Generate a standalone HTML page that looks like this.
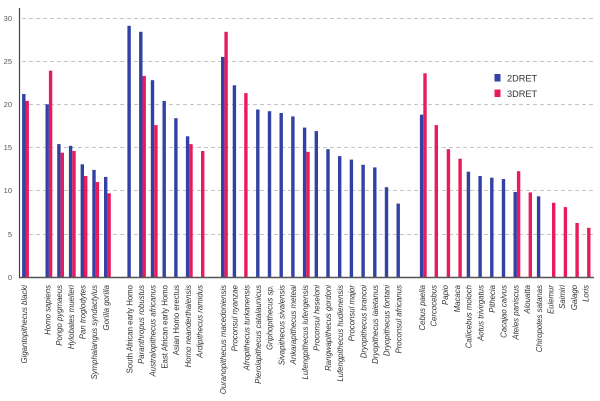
<!DOCTYPE html>
<html><head><meta charset="utf-8"><style>
html,body{margin:0;padding:0;background:#fff;}
svg{display:block;}
.g{stroke:#c4c4c4;stroke-width:1;stroke-dasharray:4 3;}
.yt{font-family:"Liberation Sans",sans-serif;font-size:7.5px;fill:#555;text-anchor:end;}
.xl{font-family:"Liberation Sans",sans-serif;font-size:7.8px;fill:#333;text-anchor:end;font-style:italic;}
.xu{font-style:normal;}
.lg{font-family:"Liberation Sans",sans-serif;font-size:9.2px;fill:#333;}
.b{fill:#3241a3;}
.r{fill:#e81c5b;}
</style></head><body>
<svg width="600" height="401" viewBox="0 0 600 401" xmlns="http://www.w3.org/2000/svg">
<rect width="600" height="401" fill="#fff"/>
<!-- gridlines -->
<line class="g" x1="22" y1="18.5" x2="596" y2="18.5"/>
<line class="g" x1="22" y1="61.5" x2="596" y2="61.5"/>
<line class="g" x1="22" y1="104.5" x2="596" y2="104.5"/>
<line class="g" x1="22" y1="147.5" x2="596" y2="147.5"/>
<line class="g" x1="22" y1="190.5" x2="596" y2="190.5"/>
<line class="g" x1="22" y1="234.5" x2="596" y2="234.5"/>
<!-- y ticks -->
<text class="yt" x="12" y="21">30</text>
<text class="yt" x="12" y="64">25</text>
<text class="yt" x="12" y="107">20</text>
<text class="yt" x="12" y="150">15</text>
<text class="yt" x="12" y="193">10</text>
<text class="yt" x="12" y="237">5</text>
<text class="yt" x="12" y="280">0</text>
<!-- bars -->
<g>
<rect class="b" x="22.1" y="94.0" width="3.4" height="183.0"/><rect class="r" x="25.5" y="100.9" width="3.4" height="176.1"/>
<rect class="b" x="45.5" y="104.3" width="3.4" height="172.7"/><rect class="r" x="48.9" y="70.7" width="3.4" height="206.3"/>
<rect class="b" x="57.2" y="144.1" width="3.4" height="132.9"/><rect class="r" x="60.6" y="152.7" width="3.4" height="124.3"/>
<rect class="b" x="68.9" y="145.8" width="3.4" height="131.2"/><rect class="r" x="72.3" y="151.0" width="3.4" height="126.0"/>
<rect class="b" x="80.6" y="164.3" width="3.4" height="112.7"/><rect class="r" x="84.0" y="176.0" width="3.4" height="101.0"/>
<rect class="b" x="92.3" y="169.9" width="3.4" height="107.1"/><rect class="r" x="95.7" y="182.0" width="3.4" height="95.0"/>
<rect class="b" x="104.0" y="176.9" width="3.4" height="100.1"/><rect class="r" x="107.4" y="193.3" width="3.4" height="83.7"/>
<rect class="b" x="127.4" y="25.8" width="3.4" height="251.2"/>
<rect class="b" x="139.1" y="31.8" width="3.4" height="245.2"/><rect class="r" x="142.5" y="75.9" width="3.4" height="201.1"/>
<rect class="b" x="150.8" y="80.2" width="3.4" height="196.8"/><rect class="r" x="154.2" y="125.1" width="3.4" height="151.9"/>
<rect class="b" x="162.5" y="100.9" width="3.4" height="176.1"/>
<rect class="b" x="174.2" y="118.2" width="3.4" height="158.8"/>
<rect class="b" x="185.9" y="136.3" width="3.4" height="140.7"/><rect class="r" x="189.3" y="144.1" width="3.4" height="132.9"/>
<rect class="r" x="201.0" y="151.0" width="3.4" height="126.0"/>
<rect class="b" x="221.0" y="56.9" width="3.4" height="220.1"/><rect class="r" x="224.4" y="31.8" width="3.4" height="245.2"/>
<rect class="b" x="232.7" y="85.3" width="3.4" height="191.7"/>
<rect class="r" x="244.2" y="93.1" width="3.4" height="183.9"/>
<rect class="b" x="256.1" y="109.5" width="3.4" height="167.5"/>
<rect class="b" x="267.8" y="111.2" width="3.4" height="165.8"/>
<rect class="b" x="279.5" y="113.0" width="3.4" height="164.0"/>
<rect class="b" x="291.2" y="116.4" width="3.4" height="160.6"/>
<rect class="b" x="302.9" y="127.6" width="3.4" height="149.4"/><rect class="r" x="306.3" y="151.8" width="3.4" height="125.2"/>
<rect class="b" x="314.6" y="131.1" width="3.4" height="145.9"/>
<rect class="b" x="326.3" y="149.2" width="3.4" height="127.8"/>
<rect class="b" x="338.0" y="156.1" width="3.4" height="120.9"/>
<rect class="b" x="349.7" y="159.6" width="3.4" height="117.4"/>
<rect class="b" x="361.4" y="164.8" width="3.4" height="112.2"/>
<rect class="b" x="373.1" y="167.4" width="3.4" height="109.6"/>
<rect class="b" x="384.8" y="187.2" width="3.4" height="89.8"/>
<rect class="b" x="396.5" y="203.6" width="3.4" height="73.4"/>
<rect class="b" x="419.9" y="114.7" width="3.4" height="162.3"/><rect class="r" x="423.3" y="73.3" width="3.4" height="203.7"/>
<rect class="r" x="434.6" y="125.1" width="3.4" height="151.9"/>
<rect class="r" x="446.7" y="149.2" width="3.4" height="127.8"/>
<rect class="r" x="458.4" y="158.7" width="3.4" height="118.3"/>
<rect class="b" x="466.7" y="171.7" width="3.4" height="105.3"/>
<rect class="b" x="478.4" y="176.0" width="3.4" height="101.0"/>
<rect class="b" x="490.1" y="177.7" width="3.4" height="99.3"/>
<rect class="b" x="501.8" y="179.0" width="3.4" height="98.0"/>
<rect class="b" x="513.5" y="192.0" width="3.4" height="85.0"/><rect class="r" x="516.9" y="171.2" width="3.4" height="105.8"/>
<rect class="r" x="528.6" y="192.4" width="3.4" height="84.6"/>
<rect class="b" x="536.9" y="196.3" width="3.4" height="80.7"/>
<rect class="r" x="552.0" y="202.8" width="3.4" height="74.2"/>
<rect class="r" x="563.7" y="207.1" width="3.4" height="69.9"/>
<rect class="r" x="575.4" y="223.0" width="3.4" height="54.0"/>
<rect class="r" x="587.1" y="227.8" width="3.4" height="49.2"/>
</g>
<!-- axes -->
<line x1="19.5" y1="8" x2="19.5" y2="278" stroke="#444" stroke-width="1.2"/>
<line x1="19" y1="277.5" x2="594" y2="277.5" stroke="#555" stroke-width="1.5"/>
<!-- legend -->
<rect class="b" x="494.5" y="74" width="6" height="7.5"/>
<text class="lg" x="507" y="81.5">2DRET</text>
<rect class="r" x="494.5" y="89.5" width="6" height="7.5"/>
<text class="lg" x="507" y="97">3DRET</text>
<!-- x labels -->
<g>
<text class="xl" transform="translate(27.0,285) rotate(-90)">Gigantopithecus blacki</text>
<text class="xl" transform="translate(50.4,285) rotate(-90)">Homo sapiens</text>
<text class="xl" transform="translate(62.1,285) rotate(-90)">Pongo pygmaeus</text>
<text class="xl" transform="translate(73.8,285) rotate(-90)">Hylobates muelleri</text>
<text class="xl" transform="translate(85.5,285) rotate(-90)">Pan troglodytes</text>
<text class="xl" transform="translate(97.2,285) rotate(-90)">Symphalangus syndactylus</text>
<text class="xl" transform="translate(108.9,285) rotate(-90)">Gorilla gorilla</text>
<text class="xl xu" transform="translate(132.3,285) rotate(-90)">South African early Homo</text>
<text class="xl" transform="translate(144.0,285) rotate(-90)">Paranthropus robustus</text>
<text class="xl" transform="translate(155.7,285) rotate(-90)">Australopithecus africanus</text>
<text class="xl xu" transform="translate(167.4,285) rotate(-90)">East African early Homo</text>
<text class="xl xu" transform="translate(179.1,285) rotate(-90)">Asian Homo erectus</text>
<text class="xl" transform="translate(190.8,285) rotate(-90)">Homo neanderthalensis</text>
<text class="xl" transform="translate(202.5,285) rotate(-90)">Ardipithecus ramidus</text>
<text class="xl" transform="translate(225.9,285) rotate(-90)">Ouranopithecus macedoniensis</text>
<text class="xl" transform="translate(237.6,285) rotate(-90)">Proconsul nyanzae</text>
<text class="xl" transform="translate(249.3,285) rotate(-90)">Afropithecus turkanensis</text>
<text class="xl" transform="translate(261.0,285) rotate(-90)">Pierolapithecus catalaunicus</text>
<text class="xl" transform="translate(272.7,285) rotate(-90)">Griphopithecus sp.</text>
<text class="xl" transform="translate(284.4,285) rotate(-90)">Sivapithecus sivalensis</text>
<text class="xl" transform="translate(296.1,285) rotate(-90)">Ankarapithecus meteai</text>
<text class="xl" transform="translate(307.8,285) rotate(-90)">Lufengpithecus lufengensis</text>
<text class="xl" transform="translate(319.5,285) rotate(-90)">Proconsul heseloni</text>
<text class="xl" transform="translate(331.2,285) rotate(-90)">Rangwapithecus gordoni</text>
<text class="xl" transform="translate(342.9,285) rotate(-90)">Lufengpithecus hudienensis</text>
<text class="xl" transform="translate(354.6,285) rotate(-90)">Proconsul major</text>
<text class="xl" transform="translate(366.3,285) rotate(-90)">Dryopithecus brancoi</text>
<text class="xl" transform="translate(378.0,285) rotate(-90)">Dryopithecus laietanus</text>
<text class="xl" transform="translate(389.7,285) rotate(-90)">Dryopithecus fontani</text>
<text class="xl" transform="translate(401.4,285) rotate(-90)">Proconsul africanus</text>
<text class="xl" transform="translate(424.8,285) rotate(-90)">Cebus paella</text>
<text class="xl" transform="translate(436.5,285) rotate(-90)">Cercocebus</text>
<text class="xl" transform="translate(448.2,285) rotate(-90)">Papio</text>
<text class="xl" transform="translate(459.9,285) rotate(-90)">Macaca</text>
<text class="xl" transform="translate(471.6,285) rotate(-90)">Callicebus moloch</text>
<text class="xl" transform="translate(483.3,285) rotate(-90)">Aotus trivirgatus</text>
<text class="xl" transform="translate(495.0,285) rotate(-90)">Pithecia</text>
<text class="xl" transform="translate(506.7,285) rotate(-90)">Cacajao calvus</text>
<text class="xl" transform="translate(518.4,285) rotate(-90)">Ateles paniscus</text>
<text class="xl" transform="translate(530.1,285) rotate(-90)">Alouatta</text>
<text class="xl" transform="translate(541.8,285) rotate(-90)">Chiropotes satanas</text>
<text class="xl" transform="translate(553.5,285) rotate(-90)">Eulemur</text>
<text class="xl" transform="translate(565.2,285) rotate(-90)">Saimiri</text>
<text class="xl" transform="translate(576.9,285) rotate(-90)">Galago</text>
<text class="xl" transform="translate(588.6,285) rotate(-90)">Loris</text>
</g>
</svg>
</body></html>
